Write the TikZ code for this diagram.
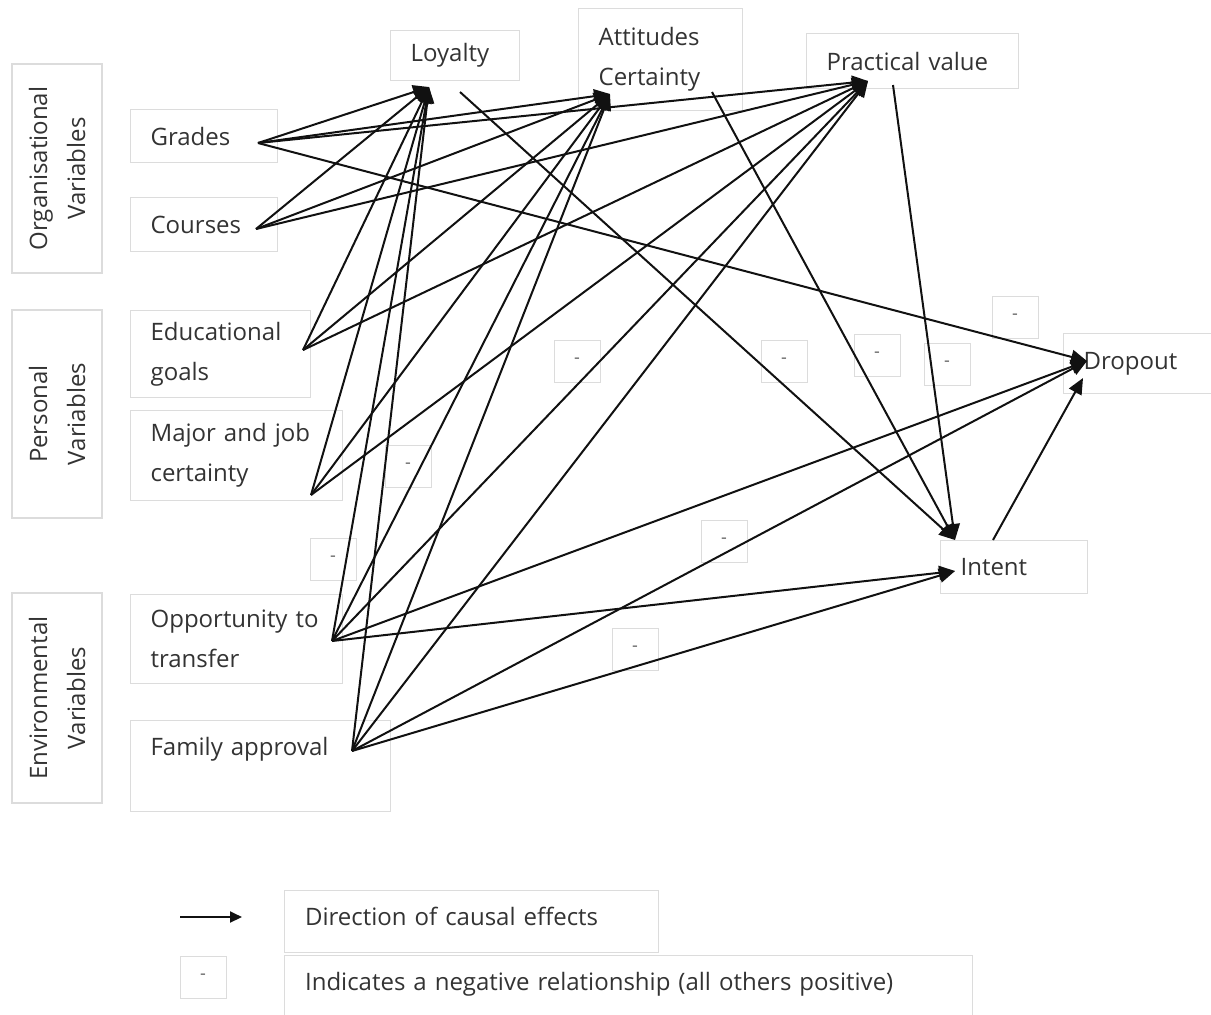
\documentclass[tikz,border=0pt]{standalone}
\usepackage{fontspec}
\setmainfont{Open Sans}
\usetikzlibrary{arrows.meta}
\definecolor{boxline}{HTML}{DCDCDC}
\definecolor{ink}{HTML}{111111}
\definecolor{txt}{HTML}{333333}
\begin{document}
\begin{tikzpicture}[x=0.5pt,y=-0.5pt,
  frame/.style={draw=boxline, line width=0.6pt, rectangle, anchor=north west,
    inner xsep=10pt, inner ysep=0pt, align=left, text=txt,
    font=\fontsize{12}{20}\selectfont},
  groupbox/.style={draw=boxline, line width=0.6pt, rectangle, rotate=90,
    inner sep=0pt, align=center, text=txt, minimum height=45pt,
    font=\fontsize{12}{19}\selectfont},
  minus/.style={draw=boxline, line width=0.5pt, rectangle, minimum width=23pt,
    minimum height=21pt, inner sep=0pt, text=black!60,
    font=\fontsize{9}{9}\selectfont},
  effect/.style={draw=ink, line width=1pt, -{Triangle[length=8pt,width=7pt]}}
]
\useasboundingbox (0,0) rectangle (1211,1014);

% variable groups
\node[groupbox, minimum width=104.5pt] (org) at (57,168.5) {Organisational\\Variables};
\node[groupbox, minimum width=104pt] (pers) at (57,414) {Personal\\Variables};
\node[groupbox, minimum width=105pt] (env) at (57,698) {Environmental\\Variables};

% exogenous variables
\node[frame, minimum width=73.5pt, minimum height=26.5pt, text width=53.5pt] (grades) at (130,109) {Grades};
\node[frame, minimum width=73.5pt, minimum height=27pt, text width=53.5pt] (courses) at (130,197) {Courses};
\node[frame, minimum width=90pt, minimum height=43.5pt, text width=70pt] (edu) at (130,310) {Educational\\goals};
\node[frame, minimum width=106pt, minimum height=45pt, text width=86pt] (major) at (130,410) {Major and job\\certainty};
\node[frame, minimum width=106pt, minimum height=44.5pt, text width=86pt] (opp) at (130,594) {Opportunity to\\transfer};
\node[frame, minimum width=130pt, minimum height=45.5pt, text width=110pt] (fam) at (130,720) {Family approval\\\mbox{}};

% intervening and outcome variables
\node[frame, minimum width=64.5pt, minimum height=25pt, text width=44.5pt] (loy) at (390,30) {Loyalty};
\node[frame, minimum width=82pt, minimum height=51pt, text width=62pt] (att) at (578,8) {Attitudes\\Certainty};
\node[frame, minimum width=106pt, minimum height=27.5pt, text width=86pt] (pv) at (806,33) {Practical value};
\node[frame, minimum width=76pt, minimum height=30pt, text width=56pt] (drop) at (1063,333) {Dropout};
\node[frame, minimum width=73.5pt, minimum height=26.5pt, text width=53.5pt] (intent) at (940,540) {Intent};

% negative relationship markers
\node[minus] (n1) at (577,361) {-};
\node[minus] (n2) at (784,361) {-};
\node[minus] (n3) at (877,355) {-};
\node[minus] (n4) at (947,364) {-};
\node[minus] (n5) at (1015,317) {-};
\node[minus] (n6) at (724,541) {-};
\node[minus] (n7) at (635,649) {-};
\node[minus] (n8) at (408,466) {-};
\node[minus] (n9) at (333,559) {-};

% connector ends
\coordinate (gO) at (258,143);
\coordinate (cO) at (256,229);
\coordinate (eO) at (303,350);
\coordinate (mO) at (311,495);
\coordinate (oO) at (332,641);
\coordinate (fO) at (352,751);
\coordinate (loyIn) at (429,87);
\coordinate (attIn) at (610,94);
\coordinate (pvIn) at (868,81);
\coordinate (loyOut) at (460,92);
\coordinate (attOut) at (712,92);
\coordinate (pvOut) at (893,85);
\coordinate (intTop) at (955,540);
\coordinate (intLeft) at (955,571);
\coordinate (intOut) at (993,540);
\coordinate (dropIn) at (1087,361);
\coordinate (dropIn2) at (1083,378);

% causal effects on the intervening variables
\foreach \s in {gO,cO,eO,mO,oO,fO}{
  \draw[effect] (\s) -- (loyIn);
  \draw[effect] (\s) -- (attIn);
  \draw[effect] (\s) -- (pvIn);
}
% direct effects on intent and dropout
\draw[effect] (gO) -- (dropIn);
\draw[effect] (oO) -- (dropIn);
\draw[effect] (fO) -- (dropIn);
\draw[effect] (oO) -- (intLeft);
\draw[effect] (fO) -- (intLeft);
\draw[effect] (loyOut) -- (intTop);
\draw[effect] (attOut) -- (intTop);
\draw[effect] (pvOut) -- (intTop);
\draw[effect] (intOut) -- (dropIn2);

% legend
\coordinate (legA) at (180,917);
\coordinate (legB) at (242,917);
\draw[draw=ink, line width=1pt, -{Triangle[length=6pt,width=5.5pt]}] (legA) -- (legB);
\node[frame, minimum width=187pt, minimum height=31pt, text width=166.5pt] (legArrow) at (284,890) {Direction of causal effects\\[-15pt]\mbox{}};
\node[minus] (legMinus) at (203,977) {-};
\node[frame, minimum width=344pt, minimum height=46pt, text width=323.5pt] (legNeg) at (284,955) {Indicates a negative relationship (all others positive)\\\mbox{}};
\end{tikzpicture}
\end{document}
